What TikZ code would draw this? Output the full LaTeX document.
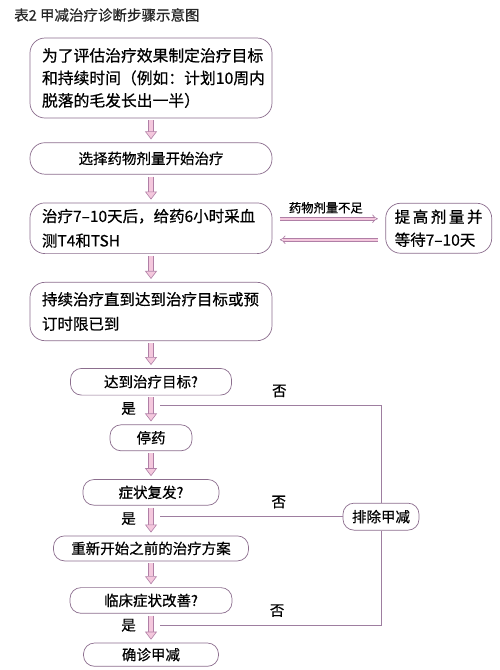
\documentclass[tikz,border=0pt]{standalone}
\usepackage{fontspec}
\setmainfont{Noto Sans CJK SC}[FakeBold=0.6]
\usetikzlibrary{arrows.meta,positioning}
\definecolor{dxline}{HTML}{8C6E8E}
\definecolor{dxpink}{HTML}{F4C8DD}
\definecolor{dxarrow}{HTML}{B07FA6}
\definecolor{dxlink}{HTML}{9E7EA0}

\begin{document}
\begin{tikzpicture}[
    x=1pt, y=-1pt,
    every node/.style={inner sep=0pt},
    stepbox/.style={draw=dxline, line width=0.7pt, rounded corners=11pt, align=center, font=\fontsize{14.5pt}{24pt}\selectfont},
    widebox/.style={stepbox, rounded corners=15pt, text width=218pt, inner xsep=12pt, align=left, font=\fontsize{15.5pt}{24.5pt}\selectfont},
    tag/.style={inner sep=3pt, font=\fontsize{14.5pt}{16pt}\selectfont},
    flowarrow/.style={draw=dxarrow, double=dxpink, double distance=4.5pt, line width=0.6pt,
      -{Triangle[fill=dxpink, width=12pt, length=8pt, line width=0.6pt]}, shorten <=2pt, shorten >=3pt},
    doseflow/.style={draw=dxarrow, double=dxpink, double distance=2.2pt, line width=0.7pt,
      -{Implies[scale=1.4]}, shorten <=7.5pt, shorten >=7.5pt},
    link/.style={draw=dxlink, line width=0.8pt}
  ]
    \fill[white] (0,0) rectangle (500,670);
    \useasboundingbox (0,0) rectangle (500,670);

    \node[anchor=west, text=black!85, font=\fontsize{14.5pt}{16pt}\selectfont] (title) at (14,15) {表2 甲减治疗诊断步骤示意图};

    % main column
    \node[widebox, minimum height=80pt, font=\fontsize{15.8pt}{22.5pt}\selectfont] (b1) at (151,78)
      {为了评估治疗效果制定治疗目标\\和持续时间（例如：计划10周内\\脱落的毛发长出一半）};
    \node[widebox, minimum height=31.5pt, align=center, font=\fontsize{14.5pt}{20pt}\selectfont, below=24pt of b1] (b2) {选择药物剂量开始治疗};
    \node[widebox, minimum height=50.7pt, below=28pt of b2] (b3) {治疗7–10天后，给药6小时采血\\测T4和TSH};
    \node[widebox, minimum height=58.4pt, below=28pt of b3] (b4) {持续治疗直到达到治疗目标或预\\订时限已到};
    \node[stepbox, minimum width=161pt, minimum height=26.7pt, below=27pt of b4] (b5) {达到治疗目标?};
    \node[stepbox, minimum width=82pt, minimum height=26pt, below=29pt of b5] (b6) {停药};
    \node[stepbox, minimum width=136pt, minimum height=25.7pt, below=28pt of b6] (b7) {症状复发?};
    \node[stepbox, minimum width=195pt, minimum height=25pt, below=30pt of b7] (b8) {重新开始之前的治疗方案};
    \node[stepbox, minimum width=162pt, minimum height=25.7pt, below=26pt of b8] (b9) {临床症状改善?};
    \node[stepbox, minimum width=135pt, minimum height=23.3pt, below=29pt of b9] (b10) {确诊甲减};

    % side box
    \node[widebox, text width=88pt, inner xsep=9pt, minimum height=50pt, font=\fontsize{15.5pt}{23pt}\selectfont, right=113pt of b3] (raise)
      {\mbox{提\,高\,剂\,量\,并}\\等待7–10天};

    \draw[flowarrow] (b1) -- (b2);
    \draw[flowarrow] (b2) -- (b3);
    \draw[flowarrow] (b3) -- (b4);
    \draw[flowarrow] (b4) -- (b5);
    \draw[flowarrow] (b5) -- coordinate[pos=.35] (m1) (b6);
    \draw[flowarrow] (b6) -- (b7);
    \draw[flowarrow] (b7) -- coordinate[pos=.37] (m2) (b8);
    \draw[flowarrow] (b8) -- (b9);
    \draw[flowarrow] (b9) -- coordinate[pos=.4] (m3) (b10);

    \draw[doseflow] ([yshift=9.5pt]b3.east) -- node[above=5pt, xshift=-3pt, font=\fontsize{12.3pt}{14pt}\selectfont] (low) {药物剂量不足} ([yshift=9.5pt]raise.west);
    \draw[doseflow] ([yshift=-11.5pt]raise.west) -- ([yshift=-11.5pt]b3.east);

    \node[stepbox, minimum width=76pt, minimum height=27pt] (ex) at ([xshift=230pt]m2) {排除甲减};

    \node[tag, left=12pt of m1, yshift=-3pt] (yes1) {是};
    \node[tag, left=12pt of m2, yshift=-2pt] (yes2) {是};
    \node[tag, left=12pt of m3] (yes3) {是};

    \draw[link] ([xshift=9pt]m1) -- node[tag, above=5pt, pos=.54] (no1) {否} (m1 -| ex) -- (ex);
    \draw[link] ([xshift=9pt]m2) -- node[tag, above=5pt, pos=.65] (no2) {否} (ex);
    \draw[link] ([xshift=9pt]m3) -- node[tag, above=5pt, pos=.53] (no3) {否} (m3 -| ex) -- (ex);
  \end{tikzpicture}
\end{document}
